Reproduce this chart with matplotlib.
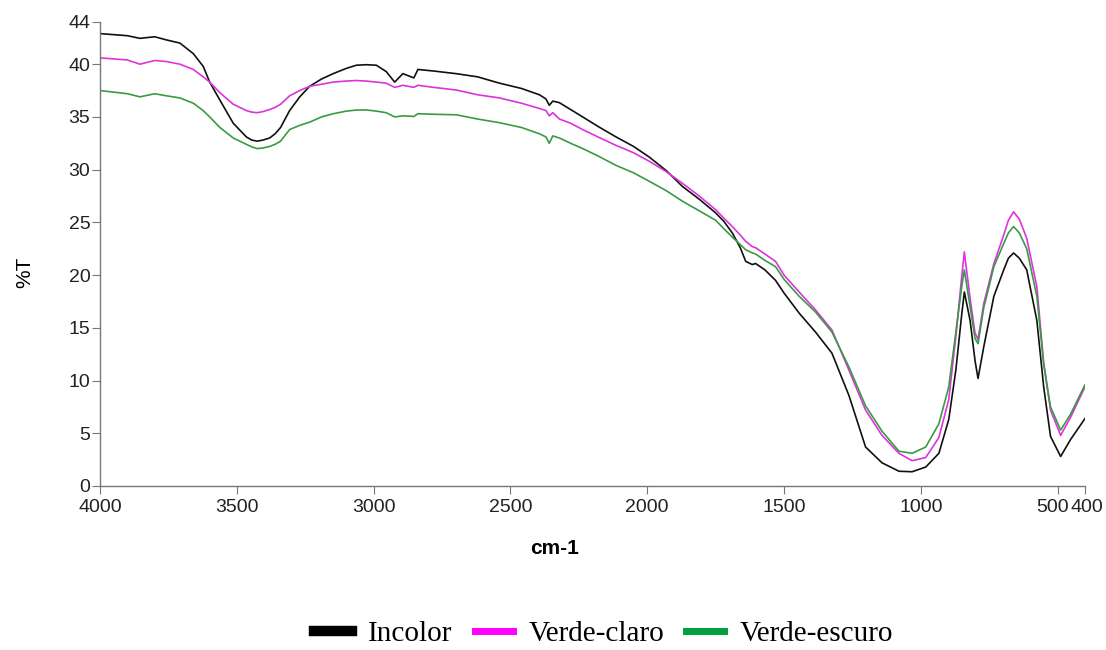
import matplotlib
matplotlib.use("Agg")
import matplotlib.pyplot as plt
import matplotlib.transforms as mtransforms
from matplotlib.lines import Line2D

wavenumber = [4000, 3950, 3900, 3854, 3800, 3757, 3708, 3659, 3623, 3599, 3562, 3513, 3465, 3445, 3425,
              3405, 3380, 3360, 3340, 3307, 3270, 3234, 3190, 3148, 3100, 3063, 3027, 2990, 2954, 2923, 2893,
              2853, 2838, 2780, 2698, 2620, 2540, 2460, 2394, 2370, 2358, 2345, 2321, 2280, 2236,
              2180, 2114, 2050, 1993, 1930, 1871, 1810, 1750, 1720, 1689, 1660, 1640, 1616, 1604,
              1570, 1531, 1500, 1445, 1385, 1325, 1263, 1202, 1142, 1080, 1032, 982, 934, 898,
              872, 850, 841, 820, 802, 791, 770, 733, 697, 680, 661, 640, 613, 576, 551, 526, 489, 453, 400]

incolor = [42.9, 42.8, 42.7, 42.45, 42.6, 42.3, 42.0, 41.0, 39.8, 38.3, 36.6, 34.4, 33.1, 32.8, 32.7,
           32.8, 33.0, 33.4, 34.0, 35.6, 36.9, 37.9, 38.6, 39.1, 39.6, 39.9, 39.95, 39.9, 39.3, 38.3, 39.1,
           38.7, 39.5, 39.35, 39.1, 38.8, 38.2, 37.7, 37.1, 36.7, 36.1, 36.5, 36.35, 35.7, 35.0,
           34.1, 33.1, 32.2, 31.2, 29.9, 28.4, 27.2, 25.9, 25.1, 24.0, 22.6, 21.3, 21.0, 21.1,
           20.5, 19.5, 18.3, 16.4, 14.6, 12.6, 8.6, 3.7, 2.2, 1.4, 1.35, 1.8, 3.1, 6.3,
           11.0, 16.4, 18.4, 15.7, 11.9, 10.2, 13.2, 18.0, 20.5, 21.6, 22.1, 21.6, 20.5, 15.7, 9.4, 4.7, 2.8, 4.4, 6.4]

verde_claro = [40.6, 40.5, 40.4, 40.0, 40.35, 40.25, 40.0, 39.5, 38.8, 38.3, 37.3, 36.2, 35.6, 35.45, 35.4,
               35.5, 35.7, 35.9, 36.2, 37.0, 37.5, 37.9, 38.1, 38.3, 38.4, 38.45, 38.4, 38.3, 38.2, 37.8, 38.0,
               37.8, 38.0, 37.8, 37.55, 37.1, 36.8, 36.3, 35.8, 35.6, 35.1, 35.4, 34.8, 34.4, 33.8,
               33.1, 32.3, 31.6, 30.8, 29.8, 28.7, 27.5, 26.2, 25.4, 24.6, 23.8, 23.2, 22.7, 22.6,
               22.0, 21.3, 20.0, 18.4, 16.7, 14.8, 11.0, 7.2, 4.8, 3.1, 2.4, 2.7, 4.6, 8.2,
               14.2, 20.0, 22.2, 17.8, 14.5, 13.9, 17.3, 21.1, 23.8, 25.2, 26.0, 25.3, 23.5, 18.9, 11.7, 7.2, 4.8, 6.5, 9.4]

verde_escuro = [37.5, 37.35, 37.2, 36.9, 37.2, 37.0, 36.8, 36.3, 35.6, 35.0, 34.0, 33.0, 32.4, 32.15, 32.0,
                32.05, 32.2, 32.4, 32.7, 33.8, 34.2, 34.5, 35.0, 35.3, 35.55, 35.65, 35.66, 35.55, 35.4, 35.0, 35.1,
                35.05, 35.3, 35.25, 35.2, 34.8, 34.45, 34.0, 33.4, 33.1, 32.5, 33.2, 33.0, 32.5, 32.0,
                31.3, 30.4, 29.7, 28.9, 28.0, 27.0, 26.1, 25.2, 24.4, 23.6, 22.9, 22.4, 22.1, 22.0,
                21.4, 20.8, 19.6, 18.0, 16.5, 14.6, 11.3, 7.6, 5.2, 3.3, 3.1, 3.7, 5.9, 9.4,
                14.6, 19.0, 20.5, 17.0, 14.0, 13.5, 16.9, 20.8, 23.0, 24.0, 24.6, 24.0, 22.5, 18.0, 11.5, 7.5, 5.3, 6.8, 9.6]

series_names = ["Incolor", "Verde-claro", "Verde-escuro"]
x_ticks = [4000, 3500, 3000, 2500, 2000, 1500, 1000, 500, 400]
y_ticks = [0, 5, 10, 15, 20, 25, 30, 35, 40, 44]

line_colors = ["#111111", "#dd33dd", "#3a9a44"]
legend_colors = ["#000000", "#ff00ff", "#00a040"]
legend_widths = [7.5, 5, 5]

fig = plt.figure(figsize=(11.06, 6.5), dpi=100)
ax = fig.add_axes([100/1106, 1-486/650, (1085-100)/1106, (486-22)/650])

for yvals, c in zip([incolor, verde_claro, verde_escuro], line_colors):
    ax.plot(wavenumber, yvals, color=c, lw=1.2)

ax.set_xlim(4000, 400)
ax.set_ylim(0, 44)
ax.set_xticks(x_ticks)
ax.set_xticklabels([str(t) for t in x_ticks], fontsize=14, family="Liberation Sans")
ax.set_yticks(y_ticks)
ax.set_yticklabels([str(t) for t in y_ticks], fontsize=14, family="Liberation Sans")
for s in ["top", "right"]:
    ax.spines[s].set_visible(False)
for s in ["left", "bottom"]:
    ax.spines[s].set_color("#777777")
    ax.spines[s].set_linewidth(1.0)
ax.tick_params(axis="x", direction="out", length=6, color="#777777", pad=3, labelcolor="#222222")
ax.tick_params(axis="y", direction="out", length=6, color="#777777", pad=1, labelcolor="#222222")

# the adjacent 500 / 400 labels sit side by side in the reference
labels = ax.get_xticklabels()
shift_500 = mtransforms.ScaledTranslation(-5/100, 0, fig.dpi_scale_trans)
shift_400 = mtransforms.ScaledTranslation(2/100, 0, fig.dpi_scale_trans)
labels[7].set_transform(labels[7].get_transform() + shift_500)
labels[8].set_transform(labels[8].get_transform() + shift_400)

ax.set_xlabel("cm-1", fontsize=15, fontweight="bold", family="Liberation Sans")
ax.xaxis.set_label_coords((555-100)/985, (486-548)/464)
ax.xaxis.label.set_va("center")
ax.set_ylabel("%T", fontsize=15, family="Liberation Sans")
ax.yaxis.set_label_coords((25-100)/985, (486-272)/464)
ax.yaxis.label.set_va("center")

handles = [Line2D([0], [0], color=c, lw=w) for c, w in zip(legend_colors, legend_widths)]
fig.legend(handles, series_names, loc="center", bbox_to_anchor=(604/1106, 1-634/650), ncol=3,
           frameon=False, prop={"family": "Liberation Serif", "size": 21},
           handlelength=1.3, handletextpad=0.55, columnspacing=0.75)

fig.savefig("out.png", dpi=100)
